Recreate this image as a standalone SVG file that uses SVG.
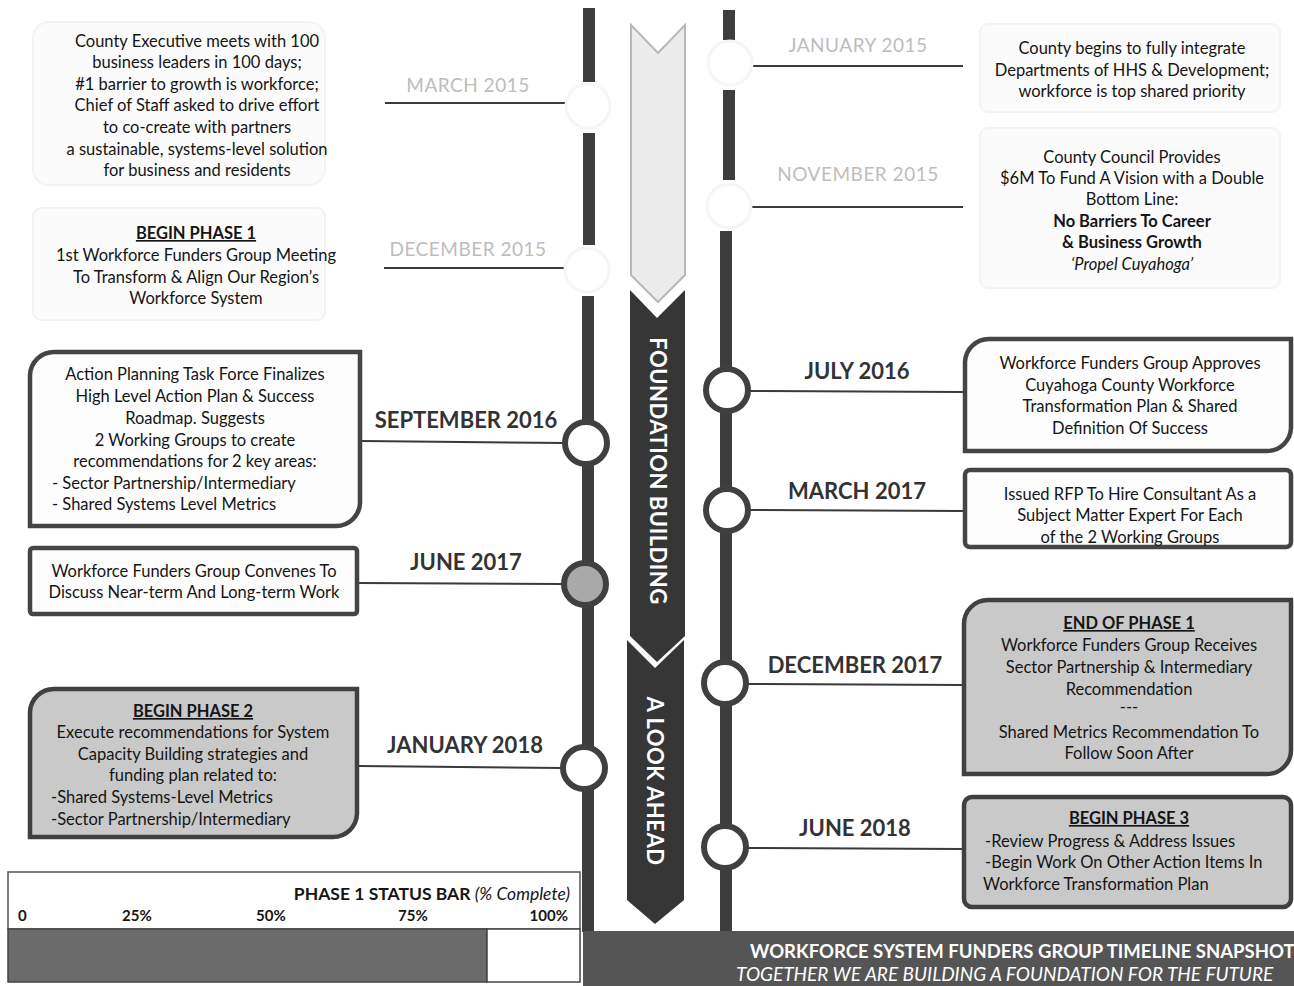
<svg xmlns="http://www.w3.org/2000/svg" width="1294" height="986" viewBox="0 0 1294 986">
<defs>
<style>
text{font-family:Lato,"Open Sans","Liberation Sans",sans-serif;fill:#151515}
.b{font-size:16.5px}
.c{text-anchor:middle}
.bold{font-weight:bold}
.u{text-decoration:underline}
.it{font-style:italic}
.date{font-size:22px;font-weight:bold;fill:#333;text-anchor:middle}
.fade{font-size:19px;fill:#bdbdbd;text-anchor:middle;letter-spacing:0.5px}
.tl{fill:#3d3d3d}
.conn{stroke:#3a3a3a;stroke-width:2;fill:none}
.ring{fill:#fff;stroke:#404040;stroke-width:6}
.ghost{fill:#fff;stroke:#f6f6f6;stroke-width:3}
.box{fill:#fdfdfd;stroke:#454545;stroke-width:4.5}
.gbox{fill:#c9c9c9;stroke:#404040;stroke-width:4.5}
.faint{fill:#fbfbfb;stroke:#f3f3f3;stroke-width:2}
.vt{font-size:22px;font-weight:bold;fill:#fff;text-anchor:middle;letter-spacing:0.5px}
</style>
</defs>
<rect width="1294" height="986" fill="#fff"/>

<!-- faint top boxes -->
<g id="faint-boxes">
<rect class="faint" x="33" y="22" width="292" height="163" rx="16"/>
<rect class="faint" x="33" y="208" width="292" height="112" rx="8"/>
<rect class="faint" x="980" y="24" width="300" height="88" rx="8"/>
<rect class="faint" x="980" y="128" width="300" height="160" rx="8"/>
</g>

<!-- timelines -->
<g id="timelines">
<rect class="tl" x="583" y="8" width="12" height="74"/>
<rect class="tl" x="583" y="133" width="12" height="112"/>
<rect class="tl" x="582" y="296" width="12" height="636"/>
<rect class="tl" x="723" y="10" width="12" height="30"/>
<rect class="tl" x="723" y="90" width="12" height="90"/>
<rect class="tl" x="720" y="231" width="12" height="702"/>
</g>

<!-- center arrows -->
<g id="arrow-foundation">
<path d="M631,25 L658,53 L685,25 L685,275 L658,302 L631,275 Z" fill="#ececec" stroke="#b8b8b8" stroke-width="2"/>
<path d="M630,290 L657,318 L685,290 L685,636 L657,662 L630,636 Z" fill="#363636"/>
<text class="vt" transform="translate(650,471) rotate(90)">FOUNDATION BUILDING</text>
</g>
<g id="arrow-ahead">
<path d="M627,640 L655,668 L684,640 L684,900 L655,924 L627,900 Z" fill="#363636"/>
<text class="vt" transform="translate(647,781) rotate(90)">A LOOK AHEAD</text>
</g>

<!-- connectors -->
<g id="connectors">
<line class="conn" x1="385" y1="103" x2="570" y2="103"/>
<line class="conn" x1="384" y1="268" x2="568" y2="268"/>
<line class="conn" x1="750" y1="66" x2="963" y2="66"/>
<line class="conn" x1="750" y1="207" x2="963" y2="207"/>
<line class="conn" x1="362" y1="441" x2="565" y2="443"/>
<line class="conn" x1="358" y1="583" x2="563" y2="584"/>
<line class="conn" x1="358" y1="766" x2="563" y2="768"/>
<line class="conn" x1="750" y1="391" x2="963" y2="392"/>
<line class="conn" x1="750" y1="510" x2="963" y2="511"/>
<line class="conn" x1="748" y1="684" x2="962" y2="685"/>
<line class="conn" x1="748" y1="848" x2="962" y2="849"/>
</g>

<!-- circles -->
<g id="circles">
<circle class="ghost" cx="588" cy="106" r="22"/>
<circle class="ghost" cx="587" cy="270" r="22"/>
<circle class="ghost" cx="730" cy="63" r="22"/>
<circle class="ghost" cx="729" cy="206" r="22"/>
<circle class="ring" cx="586" cy="443" r="21"/>
<circle class="ring" cx="585" cy="584" r="21" style="fill:#a9a9a9"/>
<circle class="ring" cx="584" cy="768" r="21"/>
<circle class="ring" cx="727" cy="390" r="21"/>
<circle class="ring" cx="727" cy="510" r="21"/>
<circle class="ring" cx="725" cy="683" r="21"/>
<circle class="ring" cx="725" cy="847" r="21"/>
</g>

<!-- Early events (faded) -->
<g id="mar2015">
<text class="fade" x="468" y="92">MARCH 2015</text>
<text class="b c" x="197" y="47">County Executive meets with 100</text>
<text class="b c" x="197" y="68">business leaders in 100 days;</text>
<text class="b c" x="197" y="90">#1 barrier to growth is workforce;</text>
<text class="b c" x="197" y="111">Chief of Staff asked to drive effort</text>
<text class="b c" x="197" y="133">to co-create with partners</text>
<text class="b c" x="197" y="155">a sustainable, systems-level solution</text>
<text class="b c" x="197" y="176">for business and residents</text>
</g>
<g id="dec2015">
<text class="fade" x="468" y="256">DECEMBER 2015</text>
<text class="b c bold u" x="196" y="239">BEGIN PHASE 1</text>
<text class="b c" x="196" y="261">1st Workforce Funders Group Meeting</text>
<text class="b c" x="196" y="283">To Transform &amp; Align Our Region’s</text>
<text class="b c" x="196" y="304">Workforce System</text>
</g>
<g id="jan2015">
<text class="fade" x="858" y="52">JANUARY 2015</text>
<text class="b c" x="1132" y="54">County begins to fully integrate</text>
<text class="b c" x="1132" y="76">Departments of HHS &amp; Development;</text>
<text class="b c" x="1132" y="97">workforce is top shared priority</text>
</g>
<g id="nov2015">
<text class="fade" x="858" y="181">NOVEMBER 2015</text>
<text class="b c" x="1132" y="163">County Council Provides</text>
<text class="b c" x="1132" y="184">$6M To Fund A Vision with a Double</text>
<text class="b c" x="1132" y="205">Bottom Line:</text>
<text class="b c bold" x="1132" y="227">No Barriers To Career</text>
<text class="b c bold" x="1132" y="248">&amp; Business Growth</text>
<text class="b c it" x="1132" y="270">‘Propel Cuyahoga’</text>
</g>

<!-- Sept 2016 -->
<g id="sep2016">
<path class="box" d="M30,375 A24,24 0 0 1 54,352 H360 V503 A24,24 0 0 1 336,526 H30 Z"/>
<text class="date" x="466" y="428">SEPTEMBER 2016</text>
<text class="b c" x="195" y="380">Action Planning Task Force Finalizes</text>
<text class="b c" x="195" y="402">High Level Action Plan &amp; Success</text>
<text class="b c" x="195" y="424">Roadmap.  Suggests</text>
<text class="b c" x="195" y="446">2 Working Groups to create</text>
<text class="b c" x="195" y="467">recommendations for 2 key areas:</text>
<text class="b" x="52" y="489">- Sector Partnership/Intermediary</text>
<text class="b" x="52" y="510">- Shared Systems Level Metrics</text>
</g>

<g id="jun2017">
<rect class="box" x="30" y="548" width="327" height="66" rx="3"/>
<text class="date" x="466" y="570">JUNE 2017</text>
<text class="b c" x="194" y="577">Workforce Funders Group Convenes To</text>
<text class="b c" x="194" y="598">Discuss Near-term And Long-term Work</text>
</g>

<g id="jan2018">
<path class="gbox" d="M30,712 A24,24 0 0 1 54,689 H357 V814 A24,24 0 0 1 333,837 H30 Z"/>
<text class="date" x="465" y="753">JANUARY 2018</text>
<text class="b c bold u" x="193" y="717">BEGIN PHASE 2</text>
<text class="b c" x="193" y="738">Execute recommendations for System</text>
<text class="b c" x="193" y="760">Capacity Building strategies and</text>
<text class="b c" x="193" y="781">funding plan related to:</text>
<text class="b" x="51" y="803">-Shared Systems-Level Metrics</text>
<text class="b" x="51" y="825">-Sector Partnership/Intermediary</text>
</g>

<g id="jul2016">
<path class="box" d="M965,362 A24,24 0 0 1 989,339 H1291 V428 A24,24 0 0 1 1267,451 H965 Z"/>
<text class="date" x="857" y="379">JULY 2016</text>
<text class="b c" x="1130" y="369">Workforce Funders Group Approves</text>
<text class="b c" x="1130" y="391">Cuyahoga County Workforce</text>
<text class="b c" x="1130" y="412">Transformation Plan &amp; Shared</text>
<text class="b c" x="1130" y="434">Definition Of Success</text>
</g>

<g id="mar2017">
<rect class="box" x="965" y="470" width="326" height="77" rx="5"/>
<text class="date" x="857" y="499">MARCH 2017</text>
<text class="b c" x="1130" y="500">Issued RFP To Hire Consultant As a</text>
<text class="b c" x="1130" y="521">Subject Matter Expert For Each</text>
<text class="b c" x="1130" y="543">of the 2 Working Groups</text>
</g>

<g id="dec2017">
<path class="gbox" d="M964,624 A24,24 0 0 1 988,600 H1291 V750 A24,24 0 0 1 1267,774 H964 Z"/>
<text class="date" x="855" y="673">DECEMBER 2017</text>
<text class="b c bold u" x="1129" y="629">END OF PHASE 1</text>
<text class="b c" x="1129" y="651">Workforce Funders Group Receives</text>
<text class="b c" x="1129" y="673">Sector Partnership &amp; Intermediary</text>
<text class="b c" x="1129" y="695">Recommendation</text>
<text class="b c" x="1129" y="713">---</text>
<text class="b c" x="1129" y="738">Shared Metrics Recommendation To</text>
<text class="b c" x="1129" y="759">Follow Soon After</text>
</g>

<g id="jun2018">
<rect class="gbox" x="964" y="797" width="327" height="110" rx="8"/>
<text class="date" x="855" y="836">JUNE 2018</text>
<text class="b c bold u" x="1129" y="824">BEGIN PHASE 3</text>
<text class="b" x="985" y="847">-Review Progress &amp; Address Issues</text>
<text class="b" x="985" y="868">-Begin Work On Other Action Items In</text>
<text class="b" x="983" y="890">Workforce Transformation Plan</text>
</g>

<!-- status bar -->
<g id="status-bar">
<rect x="8" y="872" width="572" height="57" fill="#fff" stroke="#555" stroke-width="1.5"/>
<text class="bold" font-size="17.5" x="570" y="900" text-anchor="end">PHASE 1 STATUS BAR <tspan class="it" font-weight="normal">(% Complete)</tspan></text>
<text class="bold" font-size="15" x="18" y="921">0</text>
<text class="bold" font-size="15" x="122" y="921">25%</text>
<text class="bold" font-size="15" x="256" y="921">50%</text>
<text class="bold" font-size="15" x="398" y="921">75%</text>
<text class="bold" font-size="15" x="568" y="921" text-anchor="end">100%</text>
<rect x="8" y="929" width="479" height="53" fill="#6b6b6b" stroke="#444" stroke-width="1.5"/>
<rect x="487" y="929" width="93" height="53" fill="#fff" stroke="#444" stroke-width="1.5"/>
</g>

<g id="title-bar">
<rect x="583" y="931" width="711" height="55" fill="#555"/>
<text x="750" y="958" font-size="18.5" font-weight="bold" style="fill:#fff">WORKFORCE SYSTEM FUNDERS GROUP TIMELINE SNAPSHOT</text>
<text x="736" y="981" font-size="19" font-style="italic" style="fill:#fff">TOGETHER WE ARE BUILDING A FOUNDATION FOR THE FUTURE</text>
</g>
</svg>
